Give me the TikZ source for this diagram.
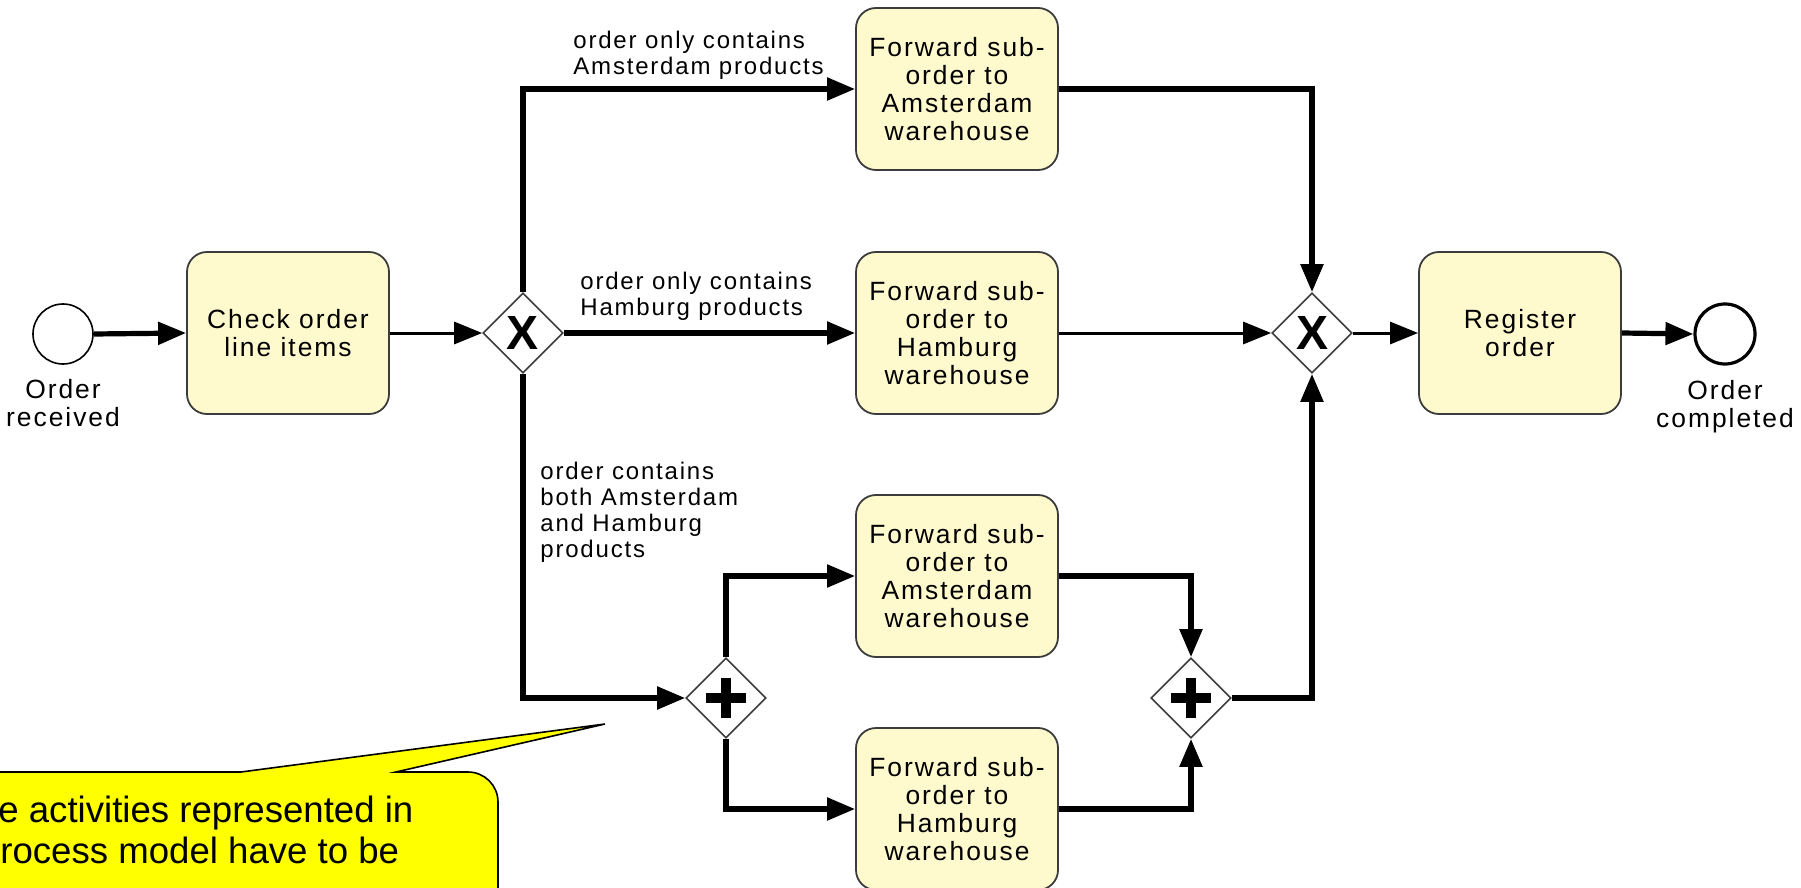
\documentclass[tikz,border=0pt]{standalone}
\usepackage{fontspec}
\setmainfont{Liberation Sans}
\newfontfamily\bpmnfont[LetterSpace=7.5]{Liberation Sans}
\usetikzlibrary{shapes.geometric,arrows.meta,positioning}
\definecolor{taskfill}{RGB}{255,250,205}
\definecolor{taskline}{RGB}{60,60,60}
\definecolor{noteyellow}{RGB}{255,255,0}

\begin{document}
\begin{tikzpicture}[x=0.5pt, y=-0.5pt,
    task/.style={rectangle, rounded corners=10pt, draw=taskline, line width=0.9pt,
      fill=taskfill, minimum width=101pt, minimum height=81pt, inner sep=0pt,
      align=center, font=\bpmnfont\fontsize{13.2}{14}\selectfont},
    gate/.style={diamond, draw=taskline, line width=0.8pt, fill=white,
      minimum size=40pt, inner sep=0pt},
    xorgate/.style={gate, font=\fontsize{24}{24}\selectfont\bfseries},
    andgate/.style={gate, path picture={
      \draw[black, line width=5pt]
        ([xshift=-10pt]path picture bounding box.center) -- ([xshift=10pt]path picture bounding box.center)
        ([yshift=-10pt]path picture bounding box.center) -- ([yshift=10pt]path picture bounding box.center);}},
    event/.style={circle, draw, fill=white, minimum size=30pt, inner sep=0pt},
    evlabel/.style={align=center, inner sep=0pt, font=\bpmnfont\fontsize{13.2}{14}\selectfont},
    flowlabel/.style={align=left, inner sep=0pt, font=\bpmnfont\fontsize{12}{13}\selectfont},
    notetext/.style={inner sep=0pt, font=\fontsize{18.3}{20}\selectfont},
    flow/.style={line width=2.6pt, -{Triangle[length=14pt, width=11pt]}},
    thinflow/.style={flow, line width=1.5pt},
  ]
  \useasboundingbox (0,0) rectangle (1801,888);

  % events and tasks
  \node[event, line width=0.8pt] (start) at (63,334) {};
  \node[evlabel, below=7pt of start] (startlbl) {Order\\received};
  \node[task] (check) at (288,333) {Check order\\line items};
  \node[xorgate] (xsplit) at (523,333) {X};

  \node[task] (amsA) at (957,89) {Forward sub-\\order to\\Amsterdam\\warehouse};
  \node[task] (hamA) at (957,333) {Forward sub-\\order to\\Hamburg\\warehouse};
  \node[task] (amsB) at (957,576) {Forward sub-\\order to\\Amsterdam\\warehouse};
  \node[task] (hamB) at (957,809) {Forward sub-\\order to\\Hamburg\\warehouse};

  \node[andgate] (asplit) at (726,698) {};
  \node[andgate] (ajoin) at (1191,698) {};
  \node[xorgate] (xjoin) at (1312,333) {X};

  \node[task] (reg) at (1520,333) {Register\\order};
  \node[event, line width=1.6pt] (end) at (1725,334) {};
  \node[evlabel, below=7pt of end] (endlbl) {Order\\completed};

  % conditions
  \node[flowlabel, anchor=west] (lblams) at (573,55) {order only contains\\Amsterdam products};
  \node[flowlabel, anchor=west] (lblham) at (580,296) {order only contains\\Hamburg products};
  \node[flowlabel, anchor=west] (lblboth) at (540,512) {order contains\\both Amsterdam\\and Hamburg\\products};

  % sequence flows
  \draw[flow] (start.east) -- (check.west);
  \draw[thinflow] (check.east) -- (xsplit.west);
  \draw[flow] (xsplit.north) |- (amsA.west);
  \draw[flow] (xsplit.east) -- (hamA.west);
  \draw[flow] (xsplit.south) |- (asplit.west);
  \draw[flow] (asplit.north) |- (amsB.west);
  \draw[flow] (asplit.south) |- (hamB.west);
  \draw[flow] (amsB.east) -| (ajoin.north);
  \draw[flow] (hamB.east) -| (ajoin.south);
  \draw[flow] (ajoin.east) -| (xjoin.south);
  \draw[flow] (amsA.east) -| (xjoin.north);
  \draw[thinflow] (hamA.east) -- (xjoin.west);
  \draw[thinflow] (xjoin.east) -- (reg.west);
  \draw[flow] (reg.east) -- (end.west);

  % callout
  \begin{scope}
    \clip (0,0) rectangle (1801,888);
    \draw[line width=0.8pt, fill=noteyellow] (-20,772) -- (241,772) -- (605,724) -- (396,772)
      -- (468,772) arc[start angle=90, end angle=0, radius=15pt] -- (498,920) -- (-20,920) -- cycle;
  \end{scope}
  \node[notetext, anchor=base west] (note1) at (-2,822) {e activities represented in};
  \node[notetext, anchor=base west] (note2) at (0,863) {rocess model have to be};
\end{tikzpicture}
\end{document}
